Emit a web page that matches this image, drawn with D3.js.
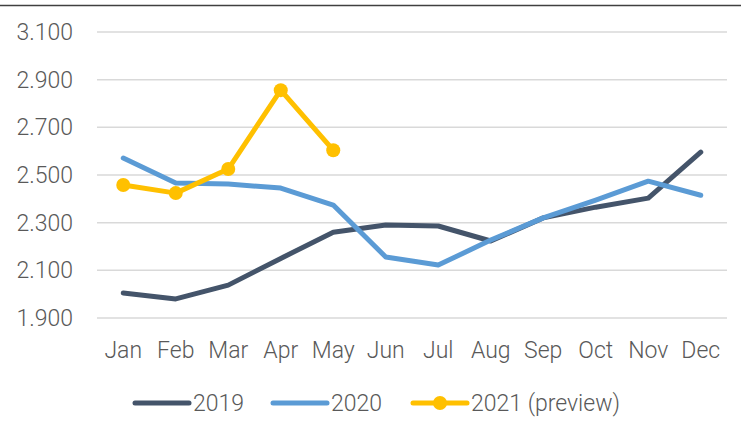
<!DOCTYPE html>
<html>
<head>
<meta charset="utf-8">
<script src="https://cdn.jsdelivr.net/npm/d3@7"></script>
<style>
body { margin:0; background:#fff; }
text { font-family: Roboto, sans-serif; font-weight:300; fill:#595959; }
</style>
</head>
<body>
<div id="chart"></div>
<script>
var months = ["Jan","Feb","Mar","Apr","May","Jun","Jul","Aug","Sep","Oct","Nov","Dec"];
var s2019 = [2005,1980,2038,2150,2260,2290,2286,2223,2320,2365,2403,2596];
var s2020 = [2571,2466,2462,2445,2374,2156,2122,2227,2320,2395,2474,2415];
var s2021 = [2458,2424,2525,2856,2604];
var yTicks = [1900,2100,2300,2500,2700,2900,3100];

var W = 741, H = 433;
var margin = {t:32, r:14, b:115, l:97};
var width = W - margin.l - margin.r,
    height = H - margin.t - margin.b;

var svg = d3.select('#chart').append('svg')
    .attr('width', W).attr('height', H);

svg.append('line')
    .attr('x1',0).attr('x2',W).attr('y1',5.5).attr('y2',5.5)
    .attr('stroke','#404040').attr('stroke-width',1.5);

var g = svg.append('g')
    .attr('transform','translate('+margin.l+','+margin.t+')');

var scaleX = d3.scaleBand().domain(months).range([0,width]);
var scaleY = d3.scaleLinear().domain([1900,3100]).range([height,0]);
var fmt3 = function(v){ return d3.format(',.0f')(v).replace(',', '.'); };

// gridlines
g.selectAll('.grid').data(yTicks).enter().append('line')
    .attr('x1',0).attr('x2',width)
    .attr('y1',function(d){return scaleY(d);})
    .attr('y2',function(d){return scaleY(d);})
    .attr('stroke','#d9d9d9').attr('stroke-width',1.5);

g.selectAll('.ylab').data(yTicks).enter().append('text')
    .attr('x',-24)
    .attr('y',function(d){return scaleY(d);})
    .attr('dy','0.35em')
    .attr('text-anchor','end')
    .style('font-size','23px')
    .text(fmt3);

g.selectAll('.xlab').data(months).enter().append('text')
    .attr('x',function(d){return scaleX(d)+scaleX.bandwidth()/2;})
    .attr('y',height+32)
    .attr('dy','0.35em')
    .attr('text-anchor','middle')
    .style('font-size','23px')
    .text(function(d){return d;});

var line = d3.line()
    .x(function(d,i){return scaleX(months[i])+scaleX.bandwidth()/2;})
    .y(function(d){return scaleY(d);});

var series = [
    {name:'2019', values:s2019, color:'#44546A', dots:false},
    {name:'2020', values:s2020, color:'#5B9BD5', dots:false},
    {name:'2021 (preview)', values:s2021, color:'#FFC000', dots:true}
];

series.forEach(function(s){
    g.append('path')
        .datum(s.values)
        .attr('d',line)
        .attr('fill','none')
        .attr('stroke',s.color)
        .attr('stroke-width',5)
        .attr('stroke-linecap','round')
        .attr('stroke-linejoin','round');
    if (s.dots) {
        g.selectAll('.dot').data(s.values).enter().append('circle')
            .attr('cx',function(d,i){return scaleX(months[i])+scaleX.bandwidth()/2;})
            .attr('cy',function(d){return scaleY(d);})
            .attr('r',7)
            .attr('fill',s.color);
    }
});

// legend
var legX = [135,273,413];
var legY = 403;
var leg = svg.selectAll('.leg').data(series).enter().append('g')
    .attr('transform',function(d,i){return 'translate('+legX[i]+','+legY+')';});
leg.append('line')
    .attr('x1',0).attr('x2',54).attr('y1',0).attr('y2',0)
    .attr('stroke',function(d){return d.color;})
    .attr('stroke-width',5)
    .attr('stroke-linecap','round');
leg.filter(function(d){return d.dots;}).append('circle')
    .attr('cx',27).attr('cy',0).attr('r',7)
    .attr('fill',function(d){return d.color;});
leg.append('text')
    .attr('x',58).attr('y',0).attr('dy','0.35em')
    .style('font-size','23px')
    .text(function(d){return d.name;});
</script>
</body>
</html>
